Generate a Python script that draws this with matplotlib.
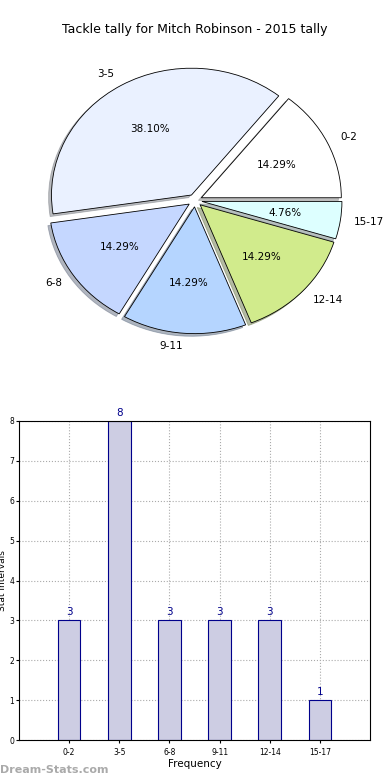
import matplotlib
matplotlib.use("Agg")
import matplotlib.pyplot as plt

# data
intervals = ['0-2', '3-5', '6-8', '9-11', '12-14', '15-17']
counts = [3, 8, 3, 3, 3, 1]
pie_colors = ['#ffffff', '#eaf1ff', '#c5d7ff', '#b5d5ff', '#d1eb8c', '#ddffff']
explode = [0.05] * 6

fig = plt.figure(figsize=(3.9, 7.8), dpi=100)

# pie on top (slightly squashed like the original)
ax1 = fig.add_axes([20 / 390, 421 / 780, 350 / 390, 317 / 780])
wedges, texts, autotexts = ax1.pie(counts, labels=intervals, colors=pie_colors,
                                   explode=explode, autopct='%1.2f%%',
                                   shadow={'ox': -0.015, 'oy': -0.015, 'shade': 0.5},
                                   startangle=0, counterclock=True,
                                   wedgeprops={'edgecolor': 'black', 'linewidth': 0.6},
                                   textprops={'fontsize': 7.5})
ax1.set_aspect('auto')
ax1.set_xlim(-1.25, 1.25)
ax1.set_ylim(-1.25, 1.25)
fig.text(0.5, 1 - 30 / 780, 'Tackle tally for Mitch Robinson - 2015 tally',
         ha='center', va='center', fontsize=9)

# bars below
ax2 = fig.add_axes([19 / 390, 40 / 780, 351 / 390, 319 / 780])
x = range(len(intervals))
ax2.bar(x, counts, width=0.45, color='#cdcde3', edgecolor='#00008b', linewidth=0.8, zorder=2)
for xi, c in zip(x, counts):
    ax2.text(xi, c + 0.08, str(c), ha='center', va='bottom', color='#00008b', fontsize=7.5)
ax2.set_xlim(-1, 6)
ax2.set_ylim(0, 8)
ax2.set_xticks(list(x))
ax2.set_xticklabels(intervals, fontsize=5.5)
ax2.set_yticks(range(9))
ax2.tick_params(axis='y', labelsize=5.5, length=2, pad=1.5)
ax2.tick_params(axis='x', length=2)
ax2.grid(True, linestyle=':', color='#aaaaaa', linewidth=0.8, zorder=0)
ax2.set_axisbelow(True)
ax2.set_xlabel('Frequency', fontsize=7.5, labelpad=2)
ax2.set_ylabel('Stat Intervals', fontsize=6.5, labelpad=2)
ax2.yaxis.set_label_coords(-0.034, 0.5)

fig.text(0.0, 1 - 770 / 780, 'Dream-Stats.com', ha='left', va='center',
         color='#aaaaaa', fontsize=8, fontweight='bold')

fig.savefig('out.png', dpi=100)
